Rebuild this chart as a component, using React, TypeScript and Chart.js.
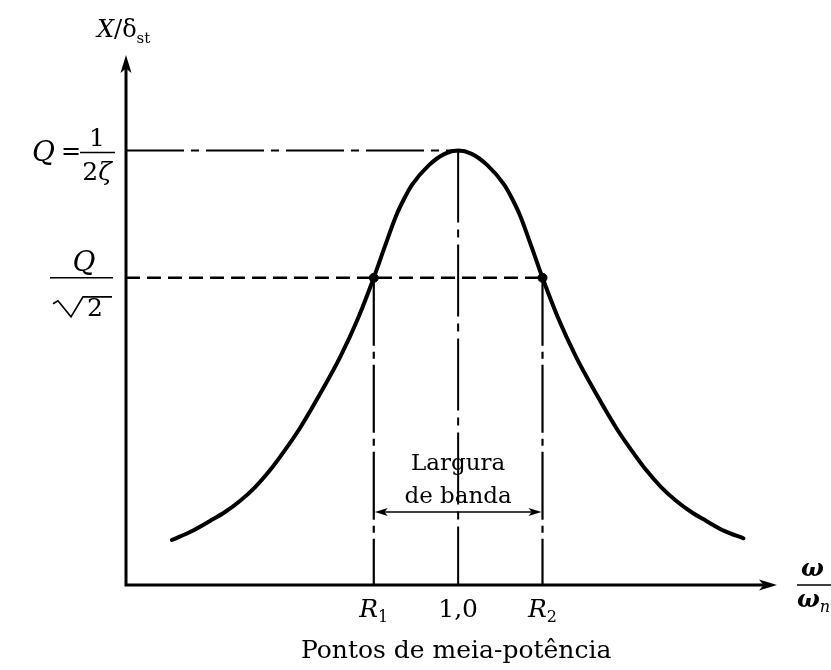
import React, { useEffect, useRef } from "react";
import { Chart, registerables } from "chart.js";

Chart.register(...registerables);

// Resonance peak Q = 1/(2ζ), the half-power level Q/√2 and the half-power ratios
const Q = 2;
const HALF_POWER = Q / Math.SQRT2;
const R1 = 0.746;
const R2 = 1.254;
const X_MAX = 1.96;
const Y_MAX = 2.44;
const BAND_ARROW_Y = 0.336;

// Amplitude ratio X/δst against frequency ratio ω/ωn
const ratio = [
  0.138, 0.199, 0.253, 0.298, 0.343, 0.389, 0.434, 0.479, 0.524, 0.584,
  0.645, 0.699, R1, 0.78, 0.813, 0.837, 0.861, 0.913, 0.961, 1.0,
  1.039, 1.087, 1.139, 1.163, 1.187, 1.22, R2, 1.301, 1.355, 1.416,
  1.476, 1.521, 1.566, 1.611, 1.657, 1.702, 1.747, 1.801, 1.859,
];
const amplitude = [
  0.207, 0.249, 0.295, 0.336, 0.387, 0.451, 0.529, 0.622, 0.723, 0.879,
  1.05, 1.229, HALF_POWER, 1.561, 1.699, 1.777, 1.842, 1.934, 1.986, 2.0,
  1.986, 1.934, 1.842, 1.777, 1.699, 1.561, HALF_POWER, 1.229, 1.05, 0.879,
  0.723, 0.622, 0.529, 0.451, 0.387, 0.336, 0.295, 0.249, 0.215,
];

// Half-power points and the axis marks under them
const halfPowerRatios = [R1, R2];
const tickValues = [R1, 1, R2];
const tickMain = ["R", "1,0", "R"];
const tickSub = ["1", "", "2"];

const SERIF = "'DejaVu Serif', serif";
const DASH_DOT = [58, 7, 8, 7];

function seg(x0: number, y0: number, x1: number, y1: number) {
  return [
    { x: x0, y: y0 },
    { x: x1, y: y1 },
  ];
}

function arrowHead(
  ctx: CanvasRenderingContext2D,
  tx: number,
  ty: number,
  dx: number,
  dy: number,
  len: number,
  half: number
) {
  const bx = tx - dx * len;
  const by = ty - dy * len;
  const nx = -dy;
  const ny = dx;
  ctx.beginPath();
  ctx.moveTo(tx, ty);
  ctx.lineTo(bx + nx * half, by + ny * half);
  ctx.lineTo(tx - dx * len * 0.75, ty - dy * len * 0.75);
  ctx.lineTo(bx - nx * half, by - ny * half);
  ctx.closePath();
  ctx.fill();
}

const diagramPlugin = {
  id: "diagram",
  afterDatasetsDraw(chart: Chart) {
    const ctx = chart.ctx;
    const xs = chart.scales.x;
    const ys = chart.scales.y;
    const { left, right, top, bottom } = chart.chartArea;
    ctx.save();
    ctx.fillStyle = "#000";
    ctx.strokeStyle = "#000";
    ctx.setLineDash([]);

    // axes with arrows
    ctx.lineWidth = 3;
    ctx.beginPath();
    ctx.moveTo(left, bottom);
    ctx.lineTo(left, top + 12);
    ctx.moveTo(left - 1.5, bottom);
    ctx.lineTo(right - 12, bottom);
    ctx.stroke();
    arrowHead(ctx, left, top, 0, -1, 18, 5.5);
    arrowHead(ctx, right, bottom, 1, 0, 18, 5.5);

    // bandwidth double arrow
    const ay = ys.getPixelForValue(BAND_ARROW_Y);
    const a1 = xs.getPixelForValue(R1) + 1;
    const a2 = xs.getPixelForValue(R2) - 1;
    ctx.lineWidth = 1.6;
    ctx.beginPath();
    ctx.moveTo(a1 + 8, ay);
    ctx.lineTo(a2 - 8, ay);
    ctx.stroke();
    arrowHead(ctx, a1, ay, -1, 0, 13, 4);
    arrowHead(ctx, a2, ay, 1, 0, 13, 4);

    ctx.textBaseline = "alphabetic";
    const cx = xs.getPixelForValue(1);

    // band label
    ctx.textAlign = "center";
    ctx.font = `23px ${SERIF}`;
    ctx.fillText("Largura", cx, ay - 42);
    ctx.fillText("de banda", cx, ay - 9);

    // tick labels R1, 1,0, R2
    const tickY = bottom + 32;
    tickValues.forEach((v, i) => {
      const px = xs.getPixelForValue(v);
      const mainFont = tickSub[i] ? `italic 25px ${SERIF}` : `25px ${SERIF}`;
      ctx.font = mainFont;
      const wm = ctx.measureText(tickMain[i]).width;
      ctx.font = `16px ${SERIF}`;
      const ws = tickSub[i] ? ctx.measureText(tickSub[i]).width : 0;
      const x0 = px - (wm + ws) / 2;
      ctx.textAlign = "left";
      ctx.font = mainFont;
      ctx.fillText(tickMain[i], x0, tickY);
      if (tickSub[i]) {
        ctx.font = `16px ${SERIF}`;
        ctx.fillText(tickSub[i], x0 + wm, tickY + 5);
      }
    });

    ctx.textAlign = "center";
    ctx.font = `25px ${SERIF}`;
    ctx.fillText("Pontos de meia-potência", cx - 2, bottom + 73);

    // y axis title X/δst
    ctx.textAlign = "left";
    let tx = 97;
    ctx.font = `italic 24px ${SERIF}`;
    ctx.fillText("X", tx, 37);
    tx += ctx.measureText("X").width;
    ctx.font = `24px ${SERIF}`;
    ctx.fillText("/δ", tx, 37);
    tx += ctx.measureText("/δ").width;
    ctx.font = `15px ${SERIF}`;
    ctx.fillText("st", tx, 43);

    // Q = 1/(2ζ)
    const yq = ys.getPixelForValue(Q);
    ctx.font = `italic 28px ${SERIF}`;
    ctx.fillText("Q", 32, yq + 10);
    ctx.font = `24px ${SERIF}`;
    ctx.textAlign = "center";
    ctx.fillText("=", 71, yq + 8);
    ctx.lineWidth = 1.6;
    ctx.beginPath();
    ctx.moveTo(80, yq + 2);
    ctx.lineTo(115, yq + 2);
    ctx.stroke();
    ctx.font = `25px ${SERIF}`;
    ctx.fillText("1", 97, yq - 5);
    const w2 = ctx.measureText("2").width;
    ctx.font = `italic 25px ${SERIF}`;
    const wz = ctx.measureText("ζ").width;
    ctx.textAlign = "left";
    const zx = 97 - (w2 + wz) / 2;
    ctx.font = `25px ${SERIF}`;
    ctx.fillText("2", zx, yq + 29);
    ctx.font = `italic 25px ${SERIF}`;
    ctx.fillText("ζ", zx + w2, yq + 29);

    // Q/√2
    const yh = ys.getPixelForValue(HALF_POWER);
    ctx.lineWidth = 1.6;
    ctx.beginPath();
    ctx.moveTo(50, yh);
    ctx.lineTo(113, yh);
    ctx.stroke();
    ctx.textAlign = "center";
    ctx.font = `italic 28px ${SERIF}`;
    ctx.fillText("Q", 84, yh - 7);
    // radical sign drawn as a path, with the overbar
    ctx.beginPath();
    ctx.moveTo(53, yh + 26);
    ctx.lineTo(58, yh + 23);
    ctx.lineTo(71, yh + 39);
    ctx.lineTo(83, yh + 19);
    ctx.lineTo(112, yh + 19);
    ctx.lineWidth = 1.7;
    ctx.stroke();
    ctx.font = `25px ${SERIF}`;
    ctx.fillText("2", 95, yh + 38);

    // ω/ωn
    const fx = 797;
    ctx.textAlign = "left";
    ctx.lineWidth = 1.6;
    ctx.beginPath();
    ctx.moveTo(fx, bottom);
    ctx.lineTo(831, bottom);
    ctx.stroke();
    ctx.font = `italic bold 24px ${SERIF}`;
    ctx.fillText("ω", fx + 4, bottom - 9);
    ctx.fillText("ω", fx, bottom + 22);
    const wo = ctx.measureText("ω").width;
    ctx.font = `italic 16px ${SERIF}`;
    ctx.fillText("n", fx + wo, bottom + 27);

    ctx.restore();
  },
};

export default function App() {
  const canvasRef = useRef<HTMLCanvasElement>(null);

  useEffect(() => {
    if (!canvasRef.current) return;
    const chart = new Chart(canvasRef.current, {
      type: "line",
      data: {
        datasets: [
          {
            label: "half-power points",
            data: halfPowerRatios.map((r) => ({ x: r, y: HALF_POWER })),
            showLine: false,
            pointRadius: 4.5,
            pointBackgroundColor: "#000",
            pointBorderColor: "#000",
            order: 0,
          },
          {
            label: "X/δst",
            data: ratio.map((r, i) => ({ x: r, y: amplitude[i] })),
            borderColor: "#000",
            borderWidth: 4,
            pointRadius: 0,
            cubicInterpolationMode: "monotone",
            borderCapStyle: "round",
            borderJoinStyle: "round",
            clip: false,
            order: 1,
          },
          {
            label: "Q",
            data: seg(0, Q, 1, Q),
            borderColor: "#000",
            borderWidth: 2,
            borderDash: DASH_DOT,
            pointRadius: 0,
            clip: false,
            order: 2,
          },
          {
            label: "ω/ωn = 1",
            data: seg(1, Q, 1, 0),
            borderColor: "#000",
            borderWidth: 2,
            borderDash: [72, 7, 8, 7],
            pointRadius: 0,
            clip: false,
            order: 2,
          },
          {
            label: "Q/√2",
            data: seg(0, HALF_POWER, R2, HALF_POWER),
            borderColor: "#000",
            borderWidth: 2.5,
            borderDash: [14, 7],
            pointRadius: 0,
            clip: false,
            order: 2,
          },
          {
            label: "R1",
            data: seg(R1, HALF_POWER, R1, 0),
            borderColor: "#000",
            borderWidth: 2.2,
            borderDash: [68, 6, 7, 6],
            pointRadius: 0,
            clip: false,
            order: 2,
          },
          {
            label: "R2",
            data: seg(R2, HALF_POWER, R2, 0),
            borderColor: "#000",
            borderWidth: 2.2,
            borderDash: [68, 6, 7, 6],
            pointRadius: 0,
            clip: false,
            order: 2,
          },
        ],
      },
      options: {
        responsive: false,
        animation: false,
        devicePixelRatio: 1,
        layout: { padding: { left: 126, right: 54, top: 55, bottom: 85 } },
        scales: {
          x: { type: "linear", display: false, min: 0, max: X_MAX },
          y: { type: "linear", display: false, min: 0, max: Y_MAX },
        },
        plugins: {
          legend: { display: false },
          tooltip: { enabled: false },
        },
      },
      plugins: [diagramPlugin],
    } as any);
    return () => chart.destroy();
  }, []);

  return (
    <div
      style={{
        position: "absolute",
        left: 0,
        top: 0,
        width: 831,
        height: 670,
        background: "#fff",
      }}
    >
      <canvas ref={canvasRef} width={831} height={670} style={{ display: "block" }} />
    </div>
  );
}
